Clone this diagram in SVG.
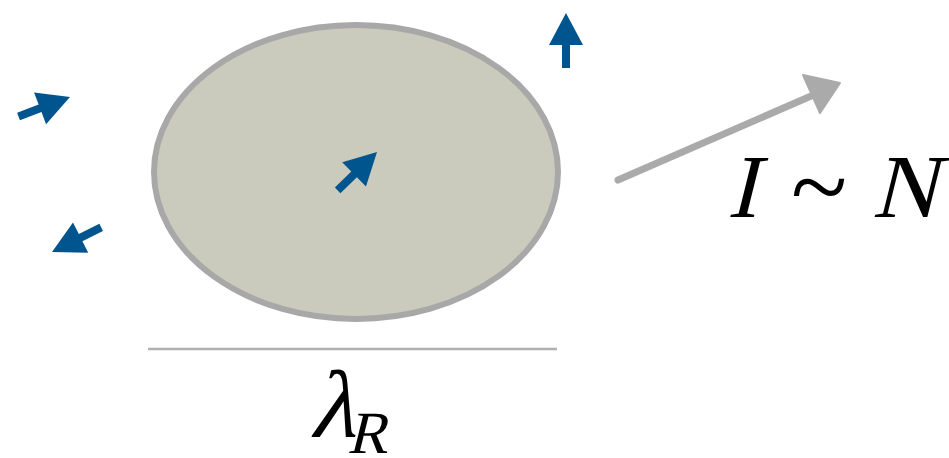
<svg xmlns="http://www.w3.org/2000/svg" xmlns:xlink="http://www.w3.org/1999/xlink" width="949" height="458" viewBox="0 0 949 458">
<style>
text{font-family:'Liberation Serif','Times New Roman',serif;font-style:normal;fill:#000}
.blue{fill:#00558f}
</style>
<defs>
<path id="barrow" class="blue" d="M0,0 L17,32 L4,32 L4,55 L-4,55 L-4,32 L-17,32 Z"/>
</defs>
<rect width="949" height="458" fill="#fff"/>
<g id="particle">
<ellipse cx="356" cy="172" rx="202" ry="147" fill="#cbcbbd" stroke="#a8a8a8" stroke-width="6"/>
</g>
<g id="spin-inside"><use xlink:href="#barrow" transform="translate(377,152) rotate(45.7)"/></g>
<g id="spin-top"><use xlink:href="#barrow" transform="translate(566,13)"/></g>
<g id="spin-left-top"><use xlink:href="#barrow" transform="translate(70,97) rotate(69.3)"/></g>
<g id="spin-left-bottom"><use xlink:href="#barrow" transform="translate(52,252) rotate(-116.6)"/></g>
<g id="connectors">
<line x1="618" y1="180" x2="818" y2="93" stroke="#aaaaaa" stroke-width="7" stroke-linecap="round"/>
<polygon points="840,83 803,75 820,113" fill="#aaaaaa" stroke="#aaaaaa" stroke-width="2" stroke-linejoin="round"/>
</g>
<g id="scale">
<line x1="148" y1="349" x2="557" y2="349" stroke="#b0b0b0" stroke-width="2.5"/>
<text transform="translate(309,437) skewX(-14)" font-size="96">λ</text>
<text transform="translate(347,453) skewX(-14)" font-size="60">R</text>
</g>
<g id="label">
<text transform="translate(727,217) skewX(-14)" font-size="90">I</text>
<text x="791" y="222" font-size="104">~</text>
<text transform="translate(872,217) skewX(-14)" font-size="90">N</text>
</g>
</svg>
